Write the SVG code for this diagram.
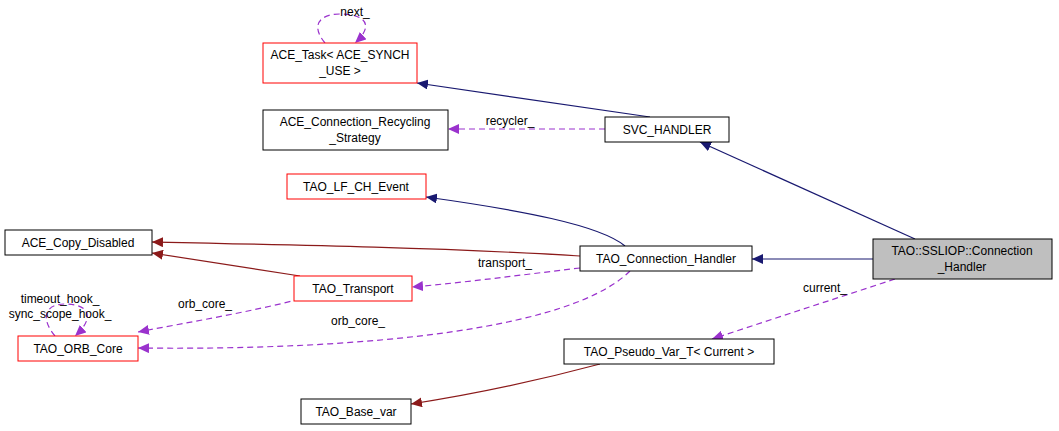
<svg xmlns="http://www.w3.org/2000/svg" width="1059" height="431" viewBox="0 0 1059 431">
<style>
text{font-family:"Liberation Sans",Arial,sans-serif;font-size:12px;fill:#000}
.n rect{fill:#fff;stroke:#000;stroke-width:1}
.r rect{stroke:#f00}
.g rect{fill:#bfbfbf}
.e path{fill:none;stroke-width:1.2}
.b{stroke:#191970}
.d{stroke:#8b1a1a}
.p{stroke:#9a32cd;stroke-dasharray:6,4}
</style>
<defs>
<marker id="mb" markerWidth="12" markerHeight="10" refX="11" refY="5" orient="auto" markerUnits="userSpaceOnUse"><path d="M0,0 L11,5 L0,10z" fill="#191970"/></marker>
<marker id="md" markerWidth="12" markerHeight="10" refX="11" refY="5" orient="auto" markerUnits="userSpaceOnUse"><path d="M0,0 L11,5 L0,10z" fill="#8b1a1a"/></marker>
<marker id="mp" markerWidth="12" markerHeight="10" refX="11" refY="5" orient="auto" markerUnits="userSpaceOnUse"><path d="M0,0 L11,5 L0,10z" fill="#9a32cd"/></marker>
</defs>
<g class="e">
<path class="p" d="M325,43 C310,25 320,14 340,14 C365,14 375,25 355,43" marker-end="url(#mp)"/>
<path class="b" d="M650,117 L417,83" marker-end="url(#mb)"/>
<path class="p" d="M605,129 L448,129" marker-end="url(#mp)"/>
<path class="b" d="M915,239 L700,142" marker-end="url(#mb)"/>
<path class="b" d="M625,246 C600,225 520,210 426,197" marker-end="url(#mb)"/>
<path class="d" d="M580,256 C450,248 300,245 152,242" marker-end="url(#md)"/>
<path class="d" d="M300,276 L152,253" marker-end="url(#md)"/>
<path class="b" d="M873,259 L752,259" marker-end="url(#mb)"/>
<path class="p" d="M580,268 C520,275 470,282 412,287" marker-end="url(#mp)"/>
<path class="p" d="M300,299 C250,312 190,322 138,332" marker-end="url(#mp)"/>
<path class="p" d="M630,271 C560,340 300,350 138,348" marker-end="url(#mp)"/>
<path class="p" d="M55,336 C40,318 45,304 65,304 C90,304 95,318 75,336" marker-end="url(#mp)"/>
<path class="p" d="M895,279 L712,339" marker-end="url(#mp)"/>
<path class="d" d="M600,364 C540,380 470,395 411,404" marker-end="url(#md)"/>
</g>
<text x="355" y="16" text-anchor="middle">next_</text>
<text x="510" y="125" text-anchor="middle">recycler_</text>
<text x="505" y="267" text-anchor="middle">transport_</text>
<text x="205" y="308" text-anchor="middle">orb_core_</text>
<text x="358" y="325" text-anchor="middle">orb_core_</text>
<text x="60" y="303" text-anchor="middle">timeout_hook_</text>
<text x="60" y="318" text-anchor="middle">sync_scope_hook_</text>
<text x="825" y="292" text-anchor="middle">current_</text>
<g id="ace_task" class="n r"><rect x="263" y="43" width="154" height="40"/><text x="340" y="59" text-anchor="middle">ACE_Task&lt; ACE_SYNCH</text><text x="340" y="75" text-anchor="middle">_USE &gt;</text></g>
<g id="recycling" class="n"><rect x="263" y="110" width="185" height="40"/><text x="355" y="126" text-anchor="middle">ACE_Connection_Recycling</text><text x="355" y="142" text-anchor="middle">_Strategy</text></g>
<g id="svc" class="n"><rect x="605" y="117" width="124" height="25"/><text x="667" y="134" text-anchor="middle">SVC_HANDLER</text></g>
<g id="lf" class="n r"><rect x="287" y="174" width="139" height="25"/><text x="356" y="191" text-anchor="middle">TAO_LF_CH_Event</text></g>
<g id="copy" class="n"><rect x="5" y="230" width="147" height="25"/><text x="78" y="247" text-anchor="middle">ACE_Copy_Disabled</text></g>
<g id="ch" class="n"><rect x="580" y="246" width="172" height="25"/><text x="666" y="263" text-anchor="middle">TAO_Connection_Handler</text></g>
<g id="ssl" class="n g"><rect x="873" y="239" width="179" height="40"/><text x="962" y="255" text-anchor="middle">TAO::SSLIOP::Connection</text><text x="962" y="271" text-anchor="middle">_Handler</text></g>
<g id="transport" class="n r"><rect x="294" y="276" width="118" height="25"/><text x="353" y="293" text-anchor="middle">TAO_Transport</text></g>
<g id="orb" class="n r"><rect x="18" y="336" width="120" height="25"/><text x="78" y="353" text-anchor="middle">TAO_ORB_Core</text></g>
<g id="pseudo" class="n"><rect x="564" y="339" width="210" height="25"/><text x="669" y="356" text-anchor="middle">TAO_Pseudo_Var_T&lt; Current &gt;</text></g>
<g id="basevar" class="n"><rect x="301" y="399" width="110" height="25"/><text x="356" y="416" text-anchor="middle">TAO_Base_var</text></g>
</svg>
